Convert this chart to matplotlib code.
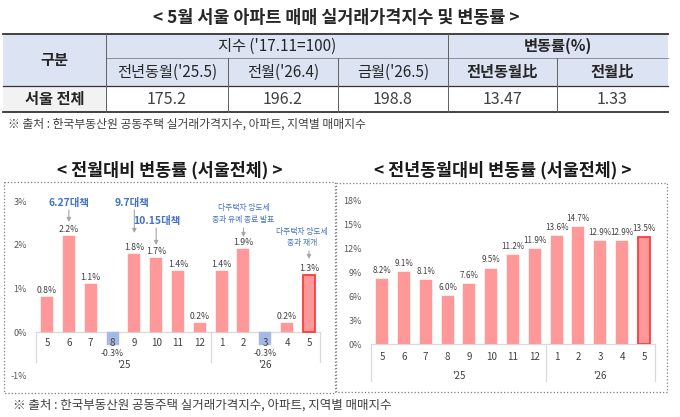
import matplotlib
matplotlib.use('Agg')
import matplotlib.pyplot as plt
from matplotlib.patches import Rectangle

plt.rcParams['font.family'] = ['Noto Sans CJK KR', 'DejaVu Sans']

# ---------------- data ----------------
months = ['5', '6', '7', '8', '9', '10', '11', '12', '1', '2', '3', '4', '5']
years = ["'25", "'26"]
mom = [0.8, 2.2, 1.1, -0.3, 1.8, 1.7, 1.4, 0.2, 1.4, 1.9, -0.3, 0.2, 1.3]
yoy = [8.2, 9.1, 8.1, 6.0, 7.6, 9.5, 11.2, 11.9, 13.6, 14.7, 12.9, 12.9, 13.5]
mom_ticks = [-1, 0, 1, 2, 3]
yoy_ticks = [0, 3, 6, 9, 12, 15, 18]

table_title = '< 5월 서울 아파트 매매 실거래가격지수 및 변동률 >'
row_header = '구분'
group_headers = ["지수 ('17.11=100)", '변동률(%)']
sub_headers = ["전년동월('25.5)", "전월('26.4)", "금월('26.5)", '전년동월比', '전월比']
row_label = '서울 전체'
index_values = [175.2, 196.2, 198.8]
change_values = [13.47, 1.33]
source = '※ 출처 : 한국부동산원 공동주택 실거래가격지수, 아파트, 지역별 매매지수'
title_left = '< 전월대비 변동률 (서울전체) >'
title_right = '< 전년동월대비 변동률 (서울전체) >'
notes = ['6.27대책', '9.7대책', '10.15대책', '다주택자 양도세\n중과 유예 종료 발표', '다주택자 양도세\n중과 재개']
note_idx = [1, 4, 5, 9, 12]

# ---------------- style ----------------
W, H = 680, 417
PINK = '#FF9999'
BLUE_BAR = '#A4B9E4'
HL_EDGE = '#FF3B3B'
NOTE_BLUE = '#4472C4'
TXT = '#404040'
HDR = '#DCE4F4'

fig = plt.figure(figsize=(W / 100, H / 100), dpi=100)
bg = fig.add_axes([0, 0, 1, 1])
bg.set_xlim(0, W)
bg.set_ylim(H, 0)
bg.axis('off')


def px_axes(x0, y0, x1, y1):
    a = fig.add_axes([x0 / W, 1 - y1 / H, (x1 - x0) / W, (y1 - y0) / H])
    a.set_facecolor('none')
    return a


# ---------------- table ----------------
bg.text(336, 18, table_title, ha='center', va='center', fontsize=12.5, fontweight='bold', color='#262626')
col_x = [3, 106, 228, 338, 448, 557, 668]
row_y = [34, 58, 86, 112]
bg.add_patch(Rectangle((col_x[0], row_y[0]), col_x[-1] - col_x[0], row_y[2] - row_y[0], fc=HDR, ec='none'))
bg.add_patch(Rectangle((col_x[0], row_y[2]), col_x[1] - col_x[0], row_y[3] - row_y[2], fc='#F2F2F2', ec='none'))
bg.plot([col_x[0], col_x[-1]], [row_y[0]] * 2, color='#333333', lw=1.3)
bg.plot([col_x[1], col_x[-1]], [row_y[1]] * 2, color='#808080', lw=0.6)
bg.plot([col_x[0], col_x[-1]], [row_y[2]] * 2, color='#333333', lw=0.9)
bg.plot([col_x[0], col_x[-1]], [row_y[3]] * 2, color='#333333', lw=1.3)
for xv in [col_x[1], col_x[4]]:
    bg.plot([xv, xv], [row_y[0], row_y[3]], color='#606060', lw=0.7)
for xv in [col_x[2], col_x[3], col_x[5]]:
    bg.plot([xv, xv], [row_y[1], row_y[3]], color='#606060', lw=0.7)

bg.text((col_x[0] + col_x[1]) / 2, (row_y[0] + row_y[2]) / 2, row_header, ha='center', va='center',
        fontsize=11, fontweight='bold', color='#262626')
bg.text((col_x[1] + col_x[4]) / 2, (row_y[0] + row_y[1]) / 2, group_headers[0], ha='center', va='center',
        fontsize=11, color='#262626')
bg.text((col_x[4] + col_x[6]) / 2, (row_y[0] + row_y[1]) / 2, group_headers[1], ha='center', va='center',
        fontsize=11, fontweight='bold', color='#262626')
for k, s in enumerate(sub_headers):
    bg.text((col_x[k + 1] + col_x[k + 2]) / 2, (row_y[1] + row_y[2]) / 2, s, ha='center', va='center',
            fontsize=11, fontweight='bold' if k >= 3 else 'normal', color='#262626')
bg.text((col_x[0] + col_x[1]) / 2, (row_y[2] + row_y[3]) / 2, row_label, ha='center', va='center',
        fontsize=11, fontweight='bold', color='#262626')
vals = [f'{v:.1f}' for v in index_values] + [f'{v:.2f}' for v in change_values]
for k, s in enumerate(vals):
    bg.text((col_x[k + 1] + col_x[k + 2]) / 2, (row_y[2] + row_y[3]) / 2, s, ha='center', va='center',
            fontsize=11.5, color=TXT)
bg.text(8, 124, source, ha='left', va='center', fontsize=8.5, color=TXT)

# ---------------- chart frames & titles ----------------
bg.text(170, 170, title_left, ha='center', va='center', fontsize=12.5, fontweight='bold', color='#1a1a1a')
bg.text(503, 170, title_right, ha='center', va='center', fontsize=12.5, fontweight='bold', color='#1a1a1a')
bg.add_patch(Rectangle((4, 182), 331, 211, fill=False, ls=':', ec='#7f7f7f', lw=0.9))
bg.add_patch(Rectangle((336, 183), 331, 209, fill=False, ls=':', ec='#7f7f7f', lw=0.9))
bg.text(13, 405, source, ha='left', va='center', fontsize=9, color=TXT)

PT = 0.72  # points per pixel


def setup(ax, data, ylim, ticks, ppu, month_off, year_off, sep_px, label_off, label_fs):
    x = list(range(len(data)))
    colors = [BLUE_BAR if v < 0 else PINK for v in data]
    edges = [c for c in colors]
    lws = [0.3] * len(data)
    edges[-1] = HL_EDGE
    lws[-1] = 1.3
    ax.bar(x, data, width=0.55, color=colors, edgecolor=edges, linewidth=lws, zorder=2)
    ax.set_xlim(-0.5, len(data) - 0.5)
    ax.set_ylim(*ylim)
    ax.set_xticks([])
    ax.set_yticks(ticks)
    ax.set_yticklabels([f'{t}%' for t in ticks])
    ax.tick_params(axis='y', length=0, pad=6.5, labelsize=6.5, labelcolor='#595959')
    for s in ax.spines.values():
        s.set_visible(False)
    ax.plot([-0.5, len(data) - 0.5], [0, 0], color='#D9D9D9', lw=0.9, clip_on=False, zorder=1)
    depth = sep_px / ppu
    for xs in [-0.5, 7.5, len(data) - 0.5]:
        ax.plot([xs, xs], [0, -depth], color='#D9D9D9', lw=0.9, clip_on=False)
    for i, m in enumerate(months):
        ax.annotate(m, (i, 0), xytext=(0, -month_off * PT), textcoords='offset points',
                    ha='center', va='center', fontsize=7, color=TXT, annotation_clip=False)
    for xc, y in zip([3.5, 10.0], years):
        ax.annotate(y, (xc, 0), xytext=(0, -year_off * PT), textcoords='offset points',
                    ha='center', va='center', fontsize=7, color=TXT, annotation_clip=False)
    for i, v in enumerate(data):
        if v >= 0:
            ax.annotate(f'{v:.1f}%', (i, v), xytext=(0, label_off * PT), textcoords='offset points',
                        ha='center', va='bottom', fontsize=label_fs, color=TXT, annotation_clip=False)
        else:
            ax.annotate(f'{v:.1f}%', (i, v), xytext=(0, -8.5 * PT), textcoords='offset points',
                        ha='center', va='center', fontsize=label_fs, color=TXT, annotation_clip=False)


# left chart: 0 at y=332 px, 43.5 px per 1%
ppu1 = 43.5
ax1 = px_axes(36.1, 332 - 3.2 * ppu1, 319.9, 332 + 1.2 * ppu1)
setup(ax1, mom, (-1.2, 3.2), mom_ticks, ppu1, 11, 32.5, 30, 2, 6.3)

# annotations (layout in pixel positions)
note_layout = [  # text y px, arrow start px, arrow end px, text dx px, fontsize, bold
    (203, 210, 222, 0, 7.5, True),
    (203, 210, 233, -2, 7.5, True),
    (221, 228, 245, 1, 7.5, True),
    (214, 228, 237, 0, 5.6, False),
    (237.5, 251, 259, -7, 5.6, False),
]
spacing = 283.8 / 13


def py1(p):
    return (332 - p) / ppu1


for txt, i, (ty, a0, a1, dx, fs, bold) in zip(notes, note_idx, note_layout):
    ax1.text(i + dx / spacing, py1(ty), txt, ha='center', va='center', fontsize=fs,
             fontweight='bold' if bold else 'normal', color=NOTE_BLUE, linespacing=1.6)
    ax1.annotate('', xy=(i, py1(a1)), xytext=(i, py1(a0)),
                 arrowprops=dict(arrowstyle='-|>', color='#A6A6A6', lw=0.8, mutation_scale=6,
                                 shrinkA=0, shrinkB=0))

# right chart: 0 at y=344 px
ax2 = px_axes(371.1, 193, 654.9, 344)
ppu2 = 151 / 19
setup(ax2, yoy, (0, 19), yoy_ticks, ppu2, 13, 32, 37, 4, 5.8)

fig.savefig('out.png', dpi=100)
